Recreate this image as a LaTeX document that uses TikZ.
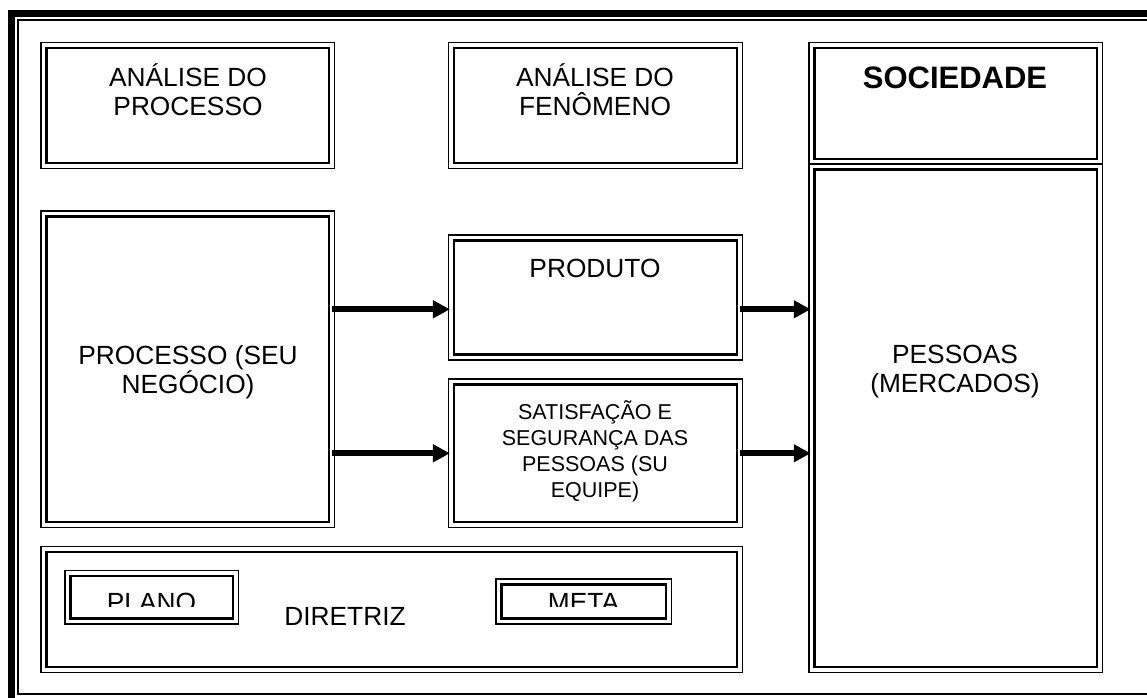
\documentclass[tikz,border=0pt]{standalone}
\usepackage{fontspec}
\setmainfont{Liberation Sans}
\usetikzlibrary{arrows.meta,fit,calc}
\begin{document}
\begin{tikzpicture}[x=1pt,y=-1pt,
  box/.style={draw,line width=1.5pt,inner sep=-0.75pt,outer sep=0pt,
    path picture={\draw[line width=2.5pt] ([shift={(5.5pt,-5.5pt)}]path picture bounding box.north west) rectangle ([shift={(-5.5pt,5.5pt)}]path picture bounding box.south east);}},
  lbl/.style={align=center,font=\fontsize{26.3}{29}\selectfont,inner sep=0pt},
  small/.style={align=center,font=\fontsize{21.5}{26}\selectfont,inner sep=0pt},
  arr/.style={line width=5.8pt,-{Triangle[length=17pt,width=17pt]}}]
\useasboundingbox (0,0) rectangle (1147,697);
\fill[white] (0,0) rectangle (1147,697);
\clip (0,0) rectangle (1147,697);
% outer frame
\draw[line width=7pt] (11,760) -- (11,13) -- (1200,13);
\draw[line width=2pt] (1200,20) -- (18.3,20) -- (18.3,694) -- (1200,694);
% boxes
\node[box,fit={(40,41.7) (335,169)}] (ap) {};
\node[box,fit={(447.7,41.7) (743,169)}] (af) {};
\node[box,fit={(808,41.7) (1103,165)}] (soc) {};
\node[box,fit={(808,163) (1103,673)}] (pes) {};
\node[box,fit={(40,210) (335,528)}] (proc) {};
\node[box,fit={(447.7,234) (743,360.5)}] (prod) {};
\node[box,fit={(447.7,378.3) (743,528)}] (sat) {};
\node[box,fit={(40,545.7) (743,673)}] (dir) {};
\node[box,fit={(64,569.5) (239,624.5)}] (plano) {};
\node[box,fit={(495,578) (672,624.5)}] (meta) {};
% texts
\node[lbl] (tap) at (188,90) {ANÁLISE DO\\PROCESSO};
\node[lbl] (taf) at (595,90) {ANÁLISE DO\\FENÔMENO};
\node[lbl,font=\fontsize{31}{36}\selectfont\bfseries] (tsoc) at (955,78) {SOCIEDADE};
\node[lbl] (tprod) at (595,268) {PRODUTO};
\node[lbl] (tproc) at (188,372) {PROCESSO (SEU\\NEGÓCIO)};
\node[small] (tsat) at (595,451) {SATISFAÇÃO E\\SEGURANÇA DAS\\PESSOAS (SU\\EQUIPE)};
\node[lbl] (tpes) at (955,372) {PESSOAS\\(MERCADOS)};
\node[lbl] (tdir) at (345,616) {DIRETRIZ};
\begin{scope}
\clip (64,560) rectangle (672,606.5);
\node[lbl,anchor=base] (tplano) at (151.5,611.5) {PLANO};
\node[lbl,anchor=base] (tmeta) at (583.5,611.5) {META};
\end{scope}
% arrows
\coordinate (r1) at (0,309.3);
\coordinate (r2) at (0,453.3);
\draw[arr,shorten <=-2.5pt,shorten >=-1.5pt] (proc.east |- r1) -- (prod.west |- r1);
\draw[arr,shorten <=-2.5pt,shorten >=-1.5pt] (proc.east |- r2) -- (sat.west |- r2);
\draw[arr,shorten <=-2.25pt,shorten >=-2pt] (prod.east |- r1) -- (pes.west |- r1);
\draw[arr,shorten <=-2.25pt,shorten >=-2pt] (sat.east |- r2) -- (pes.west |- r2);
\end{tikzpicture}
\end{document}
